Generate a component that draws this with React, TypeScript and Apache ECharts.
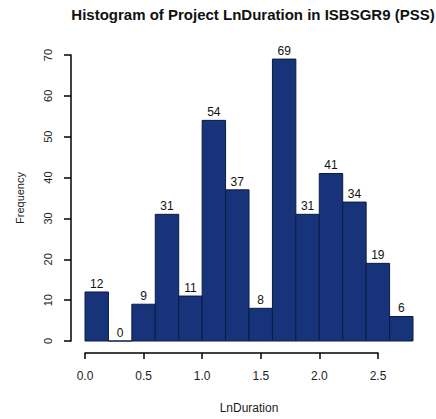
import React, { useEffect, useRef } from "react";
import * as echarts from "echarts";

const binEdges = [0, 0.2, 0.4, 0.6, 0.8, 1.0, 1.2, 1.4, 1.6, 1.8, 2.0, 2.2, 2.4, 2.6, 2.8];
const frequencies = [12, 0, 9, 31, 11, 54, 37, 8, 69, 31, 41, 34, 19, 6];
const xTickValues = [0, 0.5, 1.0, 1.5, 2.0, 2.5];
const yTickValues = [0, 10, 20, 30, 40, 50, 60, 70];

const FONT = "Liberation Sans, Arial, Helvetica, sans-serif";

export default function App() {
  const ref = useRef<HTMLDivElement>(null);
  useEffect(() => {
    if (!ref.current) return;
    const chart = echarts.init(ref.current, null, { renderer: "svg" });
    const data = frequencies.map((f, i) => [binEdges[i], binEdges[i + 1], f]);
    chart.setOption({
      animation: false,
      backgroundColor: "#ffffff",
      title: {
        text: "Histogram of Project LnDuration in ISBSGR9 (PSS)",
        left: 248,
        top: 2,
        textAlign: "center",
        textStyle: { fontFamily: FONT, fontSize: 15, fontWeight: "bold", color: "#111" },
      },
      grid: [
        { left: 85, right: 23, top: 55, bottom: 77 },
        { left: 85, right: 58, top: 55, bottom: 77 },
      ],
      xAxis: [
        {
          type: "value",
          gridIndex: 0,
          min: 0,
          max: 2.8,
          name: "LnDuration",
          nameLocation: "middle",
          nameGap: 61,
          nameTextStyle: { fontFamily: FONT, fontSize: 12, color: "#222" },
          axisLine: { show: false },
          axisTick: { show: false },
          axisLabel: { show: false },
          splitLine: { show: false },
        },
        {
          type: "value",
          gridIndex: 1,
          min: 0,
          max: 2.5,
          interval: 0.5,
          offset: 11,
          axisLine: { show: true, onZero: false, lineStyle: { color: "#000000", width: 1.5, opacity: 1 } },
          axisTick: { show: true, inside: false, length: 6, lineStyle: { color: "#000000", width: 1.5, opacity: 1 } },
          axisLabel: {
            fontFamily: FONT,
            fontSize: 12,
            color: "#222",
            margin: 17,
            formatter: (v: number) => (xTickValues.includes(v) ? v.toFixed(1) : ""),
          },
          splitLine: { show: false },
        },
      ],
      yAxis: [
        {
          type: "value",
          gridIndex: 0,
          min: 0,
          max: 70,
          interval: 10,
          offset: 14,
          name: "Frequency",
          nameLocation: "middle",
          nameRotate: 90,
          nameGap: 46,
          nameTextStyle: { fontFamily: FONT, fontSize: 11, color: "#222" },
          axisLine: { show: true, onZero: false, lineStyle: { color: "#000000", width: 1.5, opacity: 1 } },
          axisTick: { show: true, inside: false, length: 7, lineStyle: { color: "#000000", width: 1.5, opacity: 1 } },
          axisLabel: {
            fontFamily: FONT,
            fontSize: 11,
            color: "#222",
            rotate: 90,
            margin: 18,
            formatter: (v: number) => (yTickValues.includes(v) ? String(v) : ""),
          },
          splitLine: { show: false },
        },
        {
          type: "value",
          gridIndex: 1,
          min: 0,
          max: 70,
          show: false,
        },
      ],
      series: [
        {
          type: "custom",
          xAxisIndex: 0,
          yAxisIndex: 0,
          data,
          renderItem: (params: any, api: any) => {
            const x0 = api.value(0);
            const x1 = api.value(1);
            const f = api.value(2);
            const p0 = api.coord([x0, f]);
            const p1 = api.coord([x1, 0]);
            return {
              type: "group",
              children: [
                {
                  type: "rect",
                  shape: { x: p0[0], y: p0[1], width: p1[0] - p0[0], height: p1[1] - p0[1] },
                  style: { fill: "#17347a", stroke: "#0b1b45", lineWidth: 1 },
                },
                {
                  type: "text",
                  style: {
                    text: String(f),
                    x: (p0[0] + p1[0]) / 2,
                    y: p0[1] - 2,
                    textAlign: "center",
                    textVerticalAlign: "bottom",
                    fontFamily: FONT,
                    fontSize: 12,
                    fill: "#111",
                  },
                },
              ],
            };
          },
        },
      ],
    });
    return () => chart.dispose();
  }, []);
  return <div ref={ref} style={{ position: "absolute", left: 0, top: 0, width: 436, height: 419 }} />;
}
